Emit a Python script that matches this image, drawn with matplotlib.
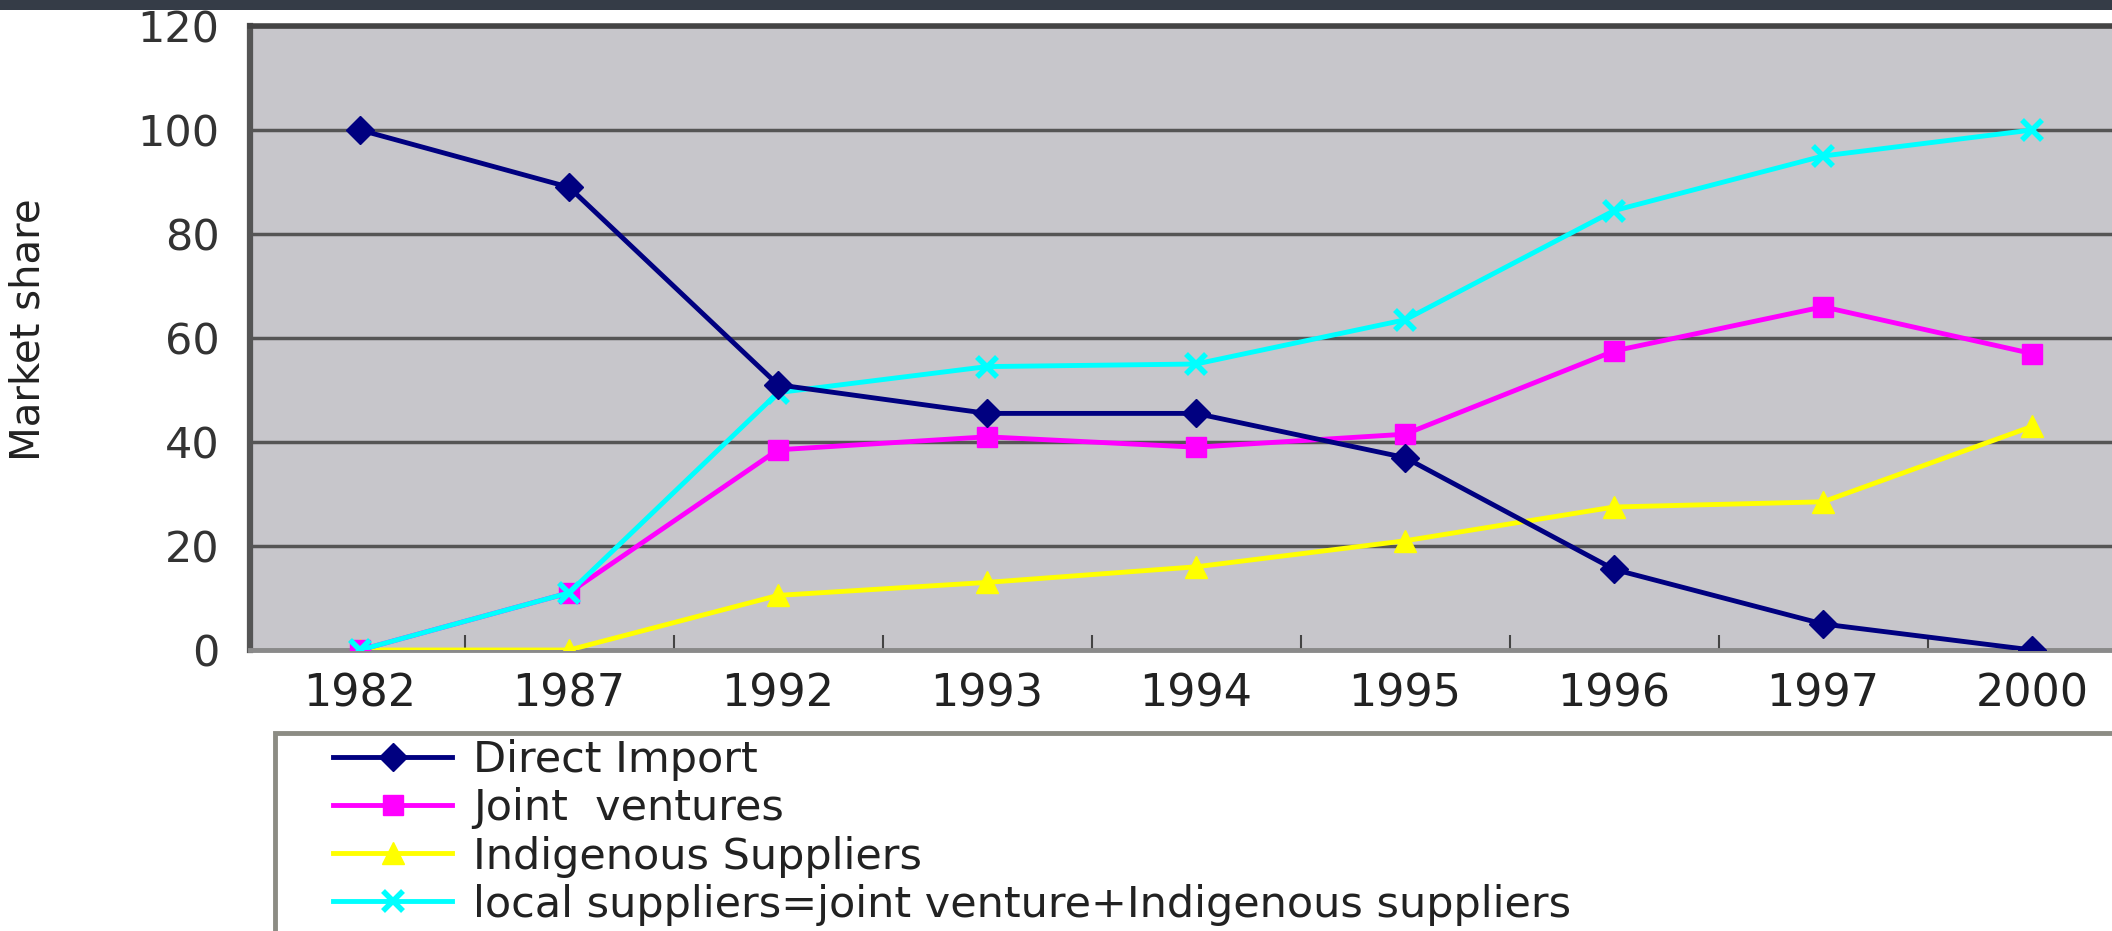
import numpy as np
import matplotlib
matplotlib.use("Agg")
import matplotlib.pyplot as plt
from matplotlib.patches import Rectangle

# data
years = ["1982", "1987", "1992", "1993", "1994", "1995", "1996", "1997", "2000"]
direct_import = [100, 89, 51, 45.5, 45.5, 37, 15.5, 5, 0]
joint_ventures = [0, 11, 38.5, 41, 39, 41.5, 57.5, 66, 57]
indigenous = [0, 0, 10.5, 13, 16, 21, 27.5, 28.5, 43]
local_suppliers = [0, 11, 49.5, 54.5, 55, 63.5, 84.5, 95, 100]

labels = ["Direct Import", "Joint  ventures", "Indigenous Suppliers",
          "local suppliers=joint venture+Indigenous suppliers"]

W, H = 2112, 931
plt.rcParams["font.family"] = ["DejaVu Sans"]

fig = plt.figure(figsize=(W / 100, H / 100), dpi=100)
fig.patch.set_facecolor("white")

# dark strip along the top edge
fig.add_artist(Rectangle((0, 1 - 10 / H), 1, 10 / H, transform=fig.transFigure,
                         facecolor="#353c47", edgecolor="none"))

ax = fig.add_axes([250 / W, 1 - 650 / H, (W - 250) / W + 0.01, (650 - 26) / H])
ax.set_facecolor("#c7c6cb")

x = np.arange(len(years))
ax.plot(x, direct_import, color="#000080", marker="D", ms=14, lw=3.5, label=labels[0], zorder=5)
ax.plot(x, joint_ventures, color="#ff00ff", marker="s", ms=15, lw=3.5, label=labels[1], zorder=4)
ax.plot(x, indigenous, color="#ffff00", marker="^", ms=16, lw=3.5, label=labels[2], zorder=3)
ax.plot(x, local_suppliers, color="#00ffff", marker="x", ms=14, mew=4, lw=3.5, label=labels[3], zorder=4)

ax.set_ylim(0, 120)
ax.set_xlim((250 - 360) / 209, (W + 21 - 360) / 209)
ax.set_yticks(range(0, 121, 20))
ax.yaxis.grid(True, color="#555555", lw=2.5)
ax.set_axisbelow(True)

ax.set_xticks(x)
ax.set_xticklabels(years)
ax.set_xticks(x[:-1] + 0.5, minor=True)
ax.tick_params(axis="x", which="major", length=0, pad=16, labelsize=32, labelcolor="#222222")
ax.tick_params(axis="x", which="minor", direction="in", length=11, width=1.5, color="#444444")
ax.tick_params(axis="y", length=0, pad=22, labelsize=31, labelcolor="#333333")

ax.spines["right"].set_visible(False)
ax.spines["top"].set_color("#444444")
ax.spines["top"].set_linewidth(4)
ax.spines["left"].set_color("#555555")
ax.spines["left"].set_linewidth(4.5)
ax.spines["bottom"].set_color("#8a8a8a")
ax.spines["bottom"].set_linewidth(3.5)

fig.text(29 / W, 1 - 330 / H, "Market share", rotation=90, ha="center", va="center",
         fontsize=29, color="#222222")

# legend box running off the right and bottom edges
fig.add_artist(Rectangle((275 / W, 1 - 980 / H), (2300 - 275) / W, (980 - 733) / H,
                         transform=fig.transFigure, facecolor="none",
                         edgecolor="#8c8c84", lw=3.5, clip_on=False))

handles, labs = ax.get_legend_handles_labels()
fig.legend(handles, labs, loc="upper left", bbox_to_anchor=(327 / W, 1 - 733 / H),
           frameon=False, fontsize=31, handlelength=2.75, handletextpad=0.5,
           labelspacing=0.14, borderpad=0.15, borderaxespad=0, labelcolor="#222222")

fig.savefig("out.png", dpi=100)
